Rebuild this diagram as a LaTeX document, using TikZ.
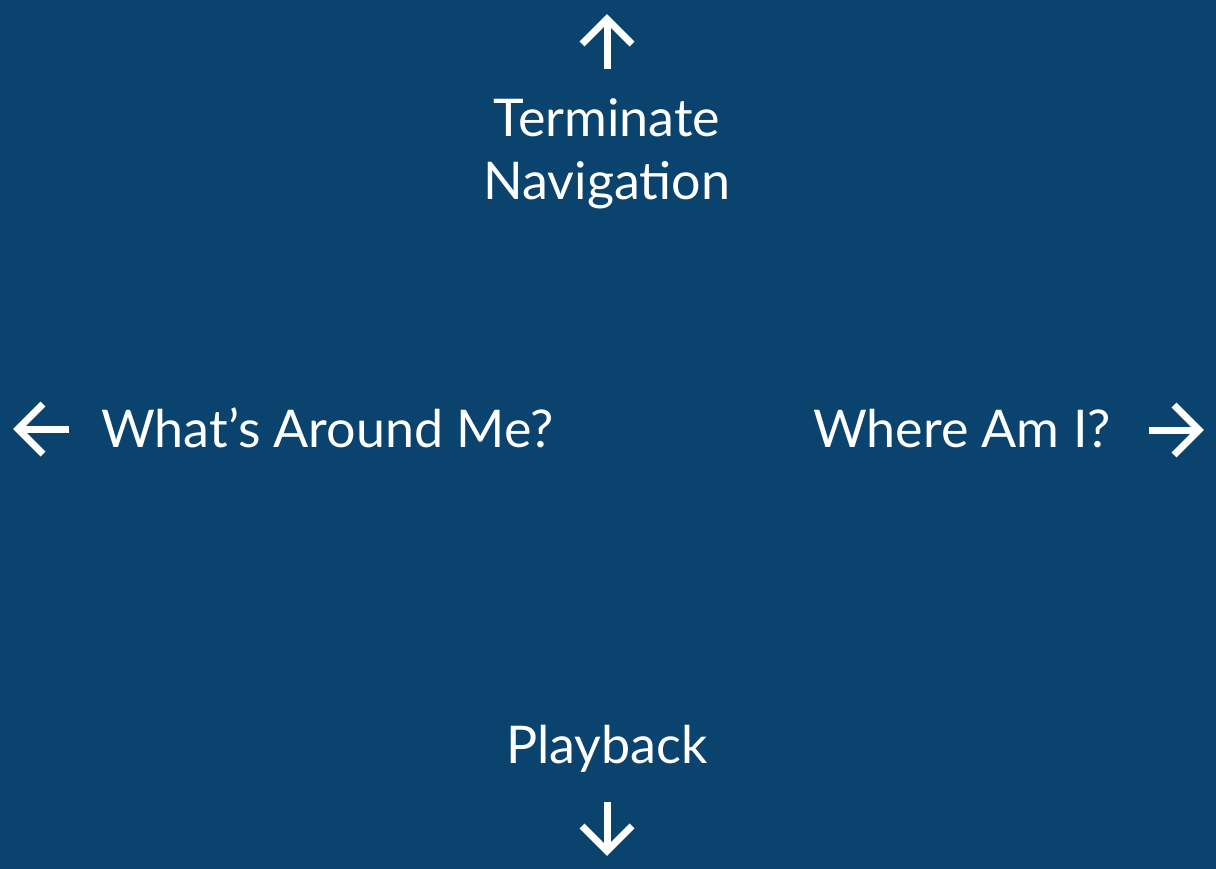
\documentclass[tikz,border=0pt]{standalone}
\usepackage{fontspec}
\setmainfont{Lato}
\usetikzlibrary{calc}
\definecolor{bgblue}{RGB}{10,67,110}
\tikzset{
  lbl/.style={text=white, font=\fontsize{52}{63}\selectfont, inner sep=0pt, anchor=base},
  arrowline/.style={draw=white, line width=7pt, line join=miter, line cap=butt}
}
\begin{document}
\begin{tikzpicture}[x=1pt,y=-1pt]
\fill[bgblue] (0,0) rectangle (1216,869);
\useasboundingbox (0,0) rectangle (1216,869);
% labels
\node[lbl, align=center] (term) at (607,200) {Terminate\\Navigation};
\node[lbl, anchor=base west] (what) at (101,447) {What’s Around Me?};
\node[lbl, anchor=base east] (where) at (1111,447) {Where Am I?};
\node[lbl] (play) at (607,763) {Playback};
% up arrow
\coordinate (uptip) at (607,19);
\coordinate (upend) at (607,69);
\draw[arrowline] (upend) -- (uptip);
\draw[arrowline] ($(uptip)+(-25,25)$) -- (uptip) -- ($(uptip)+(25,25)$);
% down arrow
\coordinate (dntip) at (607,851);
\coordinate (dnend) at (607,802);
\draw[arrowline] (dnend) -- (dntip);
\draw[arrowline] ($(dntip)+(-25,-25)$) -- (dntip) -- ($(dntip)+(25,-25)$);
% left arrow
\coordinate (lftip) at (18,429);
\coordinate (lfend) at (69,429);
\draw[arrowline] (lfend) -- (lftip);
\draw[arrowline] ($(lftip)+(25,-25)$) -- (lftip) -- ($(lftip)+(25,25)$);
% right arrow
\coordinate (rttip) at (1199,430);
\coordinate (rtend) at (1149,430);
\draw[arrowline] (rtend) -- (rttip);
\draw[arrowline] ($(rttip)+(-25,-25)$) -- (rttip) -- ($(rttip)+(-25,25)$);
\end{tikzpicture}
\end{document}
